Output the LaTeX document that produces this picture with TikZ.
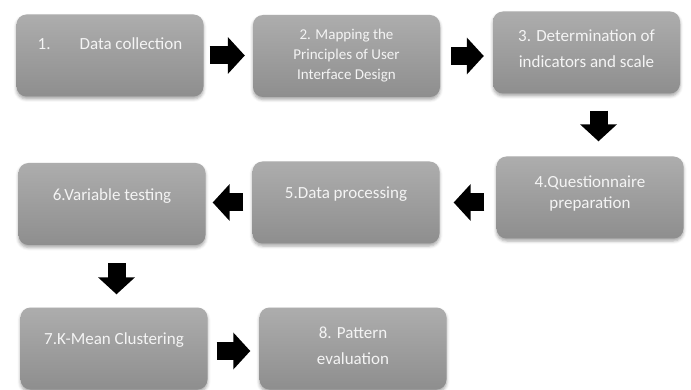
\documentclass[tikz,border=0pt]{standalone}
\usepackage{fontspec}
\setmainfont{Carlito}
\usetikzlibrary{calc, positioning, arrows.meta, shadows.blur}
\definecolor{boxtop}{HTML}{ADADAD}
\definecolor{boxbottom}{HTML}{8E8E8E}
\definecolor{boxtext}{HTML}{F4F4F4}

\begin{document}
\begin{tikzpicture}
      [x=1pt, y=-1pt,
       stage/.style={rectangle, rounded corners=10pt, minimum width=187pt, minimum height=82pt,
         top color=boxtop, bottom color=boxbottom, text=boxtext, font=\fontsize{17}{26}\selectfont,
         blur shadow={shadow xshift=0pt, shadow yshift=-2.5pt, shadow blur radius=3pt, shadow opacity=35}},
       oneline/.style={text depth=19pt},
       flow/.style={line width=18pt, -{Triangle[length=17pt, width=36pt]}}]

      \useasboundingbox (0,0) rectangle (691,390);

      %nodes
      \node[stage, oneline, text depth=24pt] (collect) at (110,55.5) {1.\hspace{29pt}Data collection};
      \node[stage, font=\fontsize{15}{20}\selectfont, align=center] (mapping) at (346.5,56) {2. Mapping the\\Principles of User\\Interface Design};
      \node[stage, align=center, text depth=8pt] (indicator) at (586.5,52.5) {3. Determination of\\indicators and scale};
      \node[stage, font=\fontsize{17}{21}\selectfont, align=center, text depth=10.5pt] (question) at (590,197.5) {4.Questionnaire\\preparation};
      \node[stage, oneline] (process) at (346,202.5) {5.Data processing};
      \node[stage, oneline] (testing) at (112,204) {6.Variable testing};
      \node[stage, oneline] (cluster) at (114,348.5) {7.K-Mean Clustering};
      \node[stage, align=center, text depth=6pt] (evaluate) at (353,348.5) {8. Pattern\\evaluation};

      % edges %
      \draw[flow, shorten <=6pt, shorten >=8pt] (collect.east) -- (collect.east -| mapping.west);
      \draw[flow, shorten <=11pt, shorten >=9pt] (mapping.east) -- (mapping.east -| indicator.west);
      \draw[flow, shorten <=17pt, shorten >=15pt] ([xshift=12pt]indicator.south) -- ([xshift=12pt]indicator.south |- question.north);
      \draw[flow, shorten <=12pt, shorten >=14pt] (process.east -| question.west) -- (process.east);
      \draw[flow, shorten <=9pt, shorten >=7pt] (process.west) -- (process.west -| testing.east);
      \draw[flow, shorten <=18pt, shorten >=13pt] ([xshift=4.5pt]testing.south) -- ([xshift=4.5pt]testing.south |- cluster.north);
      \draw[flow, shorten <=9pt, shorten >=9pt] ([yshift=-2.5pt]cluster.east) -- ([yshift=-2.5pt]cluster.east -| evaluate.west);
    \end{tikzpicture}
\end{document}
